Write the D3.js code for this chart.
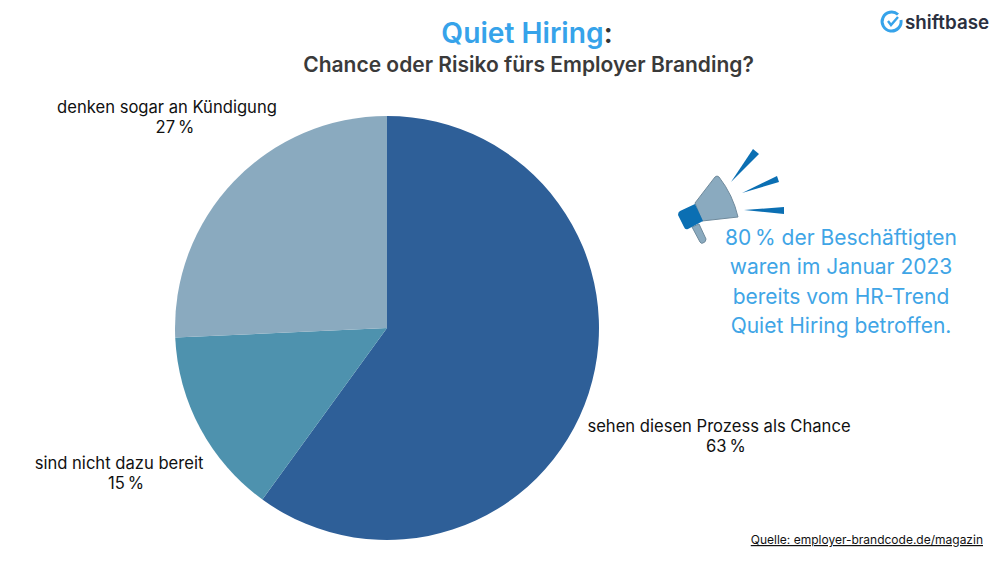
<!DOCTYPE html>
<html>
<head>
<meta charset="utf-8">
<script src="https://cdn.jsdelivr.net/npm/d3@7"></script>
<style>
  html, body { margin: 0; background: #fff; }
  text { font-family: Inter, "Open Sans", sans-serif; }
</style>
</head>
<body>
<div id="chart"></div>
<script>
// values as printed, they add up to 105 and the slices follow that
const categories = ["sehen diesen Prozess als Chance", "sind nicht dazu bereit", "denken sogar an Kündigung"];
const shares = [63, 15, 27];
const sliceColors = ["#2e5f98", "#4e92ae", "#8aaabf"];
const noteLines = ["80\u2009% der Beschäftigten", "waren im Januar 2023", "bereits vom HR-Trend", "Quiet Hiring betroffen."];

const width = 1000, height = 562;
const cx = 387, cy = 328, radius = 212;

const svg = d3.select("#chart").append("svg")
    .attr("width", width)
    .attr("height", height)
    .style("display", "block");

// title
const title = svg.append("text")
    .attr("x", 527)
    .attr("y", 43)
    .attr("text-anchor", "middle")
    .style("font-size", "28.2px")
    .style("font-weight", "600");
title.append("tspan").attr("fill", "#36a3ea").text("Quiet Hiring");
title.append("tspan").attr("fill", "#333").text(":");

svg.append("text")
    .attr("x", 528.5)
    .attr("y", 72)
    .attr("text-anchor", "middle")
    .attr("fill", "#3a3a3a")
    .style("font-size", "21px")
    .style("font-weight", "600")
    .text("Chance oder Risiko fürs Employer Branding?");

// pie
const pie = d3.pie().value(d => d).sort(null);
const arc = d3.arc().innerRadius(0).outerRadius(radius);

svg.append("g")
    .attr("transform", `translate(${cx},${cy})`)
    .selectAll("path")
    .data(pie(shares))
    .enter().append("path")
    .attr("d", arc)
    .attr("fill", (d, i) => sliceColors[i]);

// slice labels, name and share as separate lines
const labelPos = [[719, 432], [119, 469], [167, 113]];
const pctOffset = [7, 7, 8];
categories.forEach((c, i) => {
    svg.append("text")
        .attr("x", labelPos[i][0])
        .attr("y", labelPos[i][1])
        .attr("text-anchor", "middle")
        .attr("fill", "#111")
        .style("font-size", "16.6px")
        .text(c);
    svg.append("text")
        .attr("x", labelPos[i][0] + pctOffset[i])
        .attr("y", labelPos[i][1] + 20)
        .attr("text-anchor", "middle")
        .attr("fill", "#111")
        .style("font-size", "16.6px")
        .text(shares[i] + "\u2009%");
});

// note on the right
svg.append("g").selectAll("text")
    .data(noteLines)
    .enter().append("text")
    .attr("x", 841)
    .attr("y", (d, i) => 245 + i * 29.3)
    .attr("text-anchor", "middle")
    .attr("fill", "#3fa5e6")
    .style("font-size", "21px")
    .text(d => d);

// megaphone icon
const icon = svg.append("g");
icon.append("path")
    .attr("d", "M692,227 L699,224 L706,239 Q706,242 703,243 Q701,244 700,242 Z")
    .attr("fill", "#8aaabf").attr("stroke", "#6f8a9c");
icon.append("path")
    .attr("d", "M695,203 L715,177 Q717,175 719,177 Q733,195 738,217 L702,221 Z")
    .attr("fill", "#8aaabf").attr("stroke", "#6f8a9c");
icon.append("path")
    .attr("d", "M680,211 L695,204 L703,221 L688,229 Q685,230 684,227 L678,215 Q678,212 680,211 Z")
    .attr("fill", "#0b6fb3");
icon.selectAll(".ray")
    .data(["M731,182 L753,149 L759,154 Z", "M742,193 L777,176 L779,182 Z", "M744,210 L784,207 L784,214 Z"])
    .enter().append("path")
    .attr("class", "ray")
    .attr("d", d => d)
    .attr("fill", "#0b6fb3");

// logo
svg.append("path")
    .attr("d", "M898,14.5 A9.5,9.5 0 1 0 901,20")
    .attr("fill", "none").attr("stroke", "#36a3ea").attr("stroke-width", 3);
svg.append("path")
    .attr("d", "M888,21 L891,25 L898,17")
    .attr("fill", "none").attr("stroke", "#36a3ea").attr("stroke-width", 2.4);
svg.append("text")
    .attr("x", 905)
    .attr("y", 29)
    .attr("fill", "#2b3040")
    .style("font-size", "18.8px")
    .style("font-weight", "600")
    .text("shiftbase");

// source
svg.append("text")
    .attr("x", 983)
    .attr("y", 544)
    .attr("text-anchor", "end")
    .attr("fill", "#111")
    .attr("text-decoration", "underline")
    .style("font-size", "12px")
    .text("Quelle: employer-brandcode.de/magazin");
</script>
</body>
</html>
